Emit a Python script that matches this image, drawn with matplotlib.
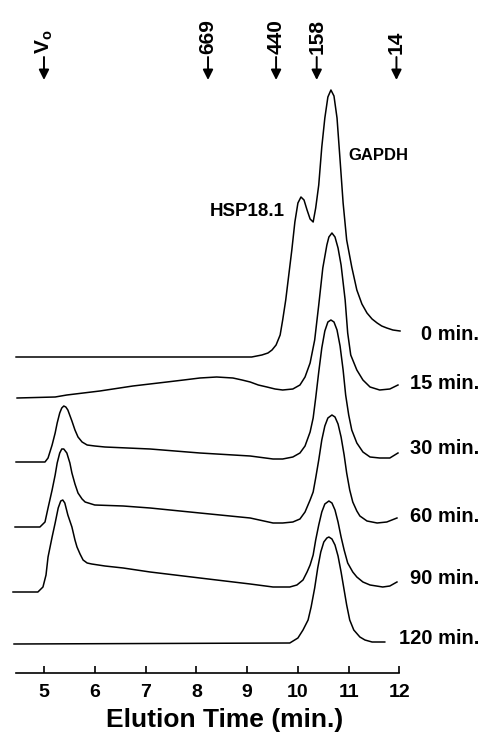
import matplotlib
matplotlib.use("Agg")
import matplotlib.pyplot as plt

plt.rcParams['font.family'] = ['Liberation Sans', 'DejaVu Sans']
plt.rcParams['font.weight'] = 'bold'
plt.rcParams['mathtext.fontset'] = 'custom'
plt.rcParams['mathtext.rm'] = 'Liberation Sans:bold'
plt.rcParams['mathtext.bf'] = 'Liberation Sans:bold'

# elution time (min) and signal above each trace's own baseline (arb. units)
t_0 = [4.45, 9.09, 9.29, 9.41, 9.49, 9.57, 9.65, 9.70, 9.76, 9.82, 9.88, 9.94, 10.00,
       10.06, 10.12, 10.18, 10.24, 10.30, 10.35, 10.41, 10.47, 10.53, 10.59, 10.65,
       10.71, 10.77, 10.83, 10.89, 10.96, 11.06, 11.16, 11.26, 11.36, 11.46, 11.56,
       11.65, 11.75, 11.87, 12.01]
s_0 = [0, 0, 2, 4, 7, 12, 22, 37, 57, 82, 107, 135, 154,
       160, 157, 147, 138, 135, 149, 172, 210, 239, 260, 267,
       261, 239, 197, 154, 117, 90, 67, 53, 44, 38, 34,
       31, 29, 27, 26]

t_15 = [4.47, 5.22, 5.45, 6.10, 6.75, 7.42, 7.75, 8.07, 8.40, 8.72, 8.90, 9.06, 9.22,
        9.39, 9.55, 9.70, 9.90, 10.04, 10.14, 10.24, 10.33, 10.41, 10.49, 10.57, 10.61,
        10.67, 10.73, 10.79, 10.85, 10.93, 10.98, 11.04, 11.16, 11.28, 11.42, 11.61,
        11.81, 11.97]
s_15 = [0, 1, 3, 7, 12, 16, 18, 20, 21, 20, 18, 16, 13,
        11, 9, 8, 9, 13, 21, 35, 58, 93, 130, 153, 161,
        165, 161, 150, 133, 98, 65, 43, 28, 18, 11, 8,
        9, 13]

t_30 = [4.45, 5.02, 5.08, 5.16, 5.22, 5.26, 5.31, 5.35, 5.39, 5.43, 5.47, 5.55, 5.61,
        5.67, 5.75, 5.85, 6.00, 6.20, 7.09, 8.07, 9.06, 9.51, 9.70, 9.90, 10.04, 10.14,
        10.24, 10.30, 10.35, 10.41, 10.47, 10.53, 10.59, 10.65, 10.71, 10.77, 10.83,
        10.89, 10.94, 11.00, 11.06, 11.16, 11.28, 11.42, 11.61, 11.81, 11.97]
s_30 = [0, 0, 4, 17, 29, 39, 49, 54, 56, 55, 52, 41, 32,
        25, 20, 17, 16, 15, 13, 9, 6, 3, 3, 5, 9, 16,
        30, 44, 64, 90, 114, 131, 140, 142, 140, 132, 116,
        92, 67, 47, 32, 19, 10, 5, 4, 4, 9]

t_60 = [4.43, 4.92, 5.02, 5.08, 5.16, 5.22, 5.26, 5.31, 5.35, 5.39, 5.45, 5.51, 5.55,
        5.61, 5.67, 5.75, 5.81, 6.00, 6.56, 7.09, 8.07, 9.06, 9.51, 9.70, 9.90, 10.04,
        10.14, 10.24, 10.30, 10.35, 10.41, 10.47, 10.53, 10.59, 10.67, 10.73, 10.79,
        10.85, 10.91, 10.96, 11.02, 11.08, 11.16, 11.22, 11.36, 11.56, 11.75, 11.95]
s_60 = [0, 0, 5, 19, 37, 52, 64, 74, 78, 78, 74, 64, 54,
        43, 34, 28, 25, 22, 21, 19, 14, 9, 4, 4, 5, 8,
        15, 27, 35, 49, 67, 87, 101, 109, 112, 110, 103,
        90, 72, 54, 37, 25, 16, 11, 6, 4, 5, 9]

t_90 = [4.39, 4.88, 4.98, 5.04, 5.08, 5.16, 5.22, 5.28, 5.33, 5.37, 5.41, 5.47, 5.55,
        5.61, 5.65, 5.71, 5.77, 5.85, 5.94, 6.20, 6.56, 7.09, 8.07, 9.06, 9.51, 9.84,
        9.98, 10.10, 10.18, 10.24, 10.30, 10.35, 10.41, 10.47, 10.53, 10.61, 10.67,
        10.73, 10.79, 10.85, 10.91, 10.98, 11.08, 11.16, 11.28, 11.42, 11.67, 11.81, 11.95]
s_90 = [0, 0, 5, 17, 35, 55, 69, 84, 91, 92, 89, 77, 65,
        52, 45, 38, 32, 29, 28, 26, 24, 20, 14, 8, 5, 5,
        7, 12, 20, 27, 37, 52, 67, 80, 88, 91, 89,
        82, 70, 55, 42, 29, 20, 15, 10, 7, 5, 6, 10]

t_120 = [4.41, 9.84, 10.00, 10.10, 10.20, 10.26, 10.33, 10.39, 10.45, 10.51, 10.57,
         10.61, 10.67, 10.73, 10.79, 10.85, 10.91, 10.96, 11.02, 11.10, 11.22, 11.32,
         11.46, 11.71]
s_120 = [0, 1, 6, 14, 24, 37, 56, 76, 92, 102, 106,
         107, 105, 99, 88, 72, 54, 39, 24, 14, 7, 4,
         2, 2]

traces = [(t_0, s_0), (t_15, s_15), (t_30, s_30), (t_60, s_60), (t_90, s_90), (t_120, s_120)]
offsets = [316, 275, 211, 146, 81, 29]
trace_labels = ["0 min.", "15 min.", "30 min.", "60 min.", "90 min.", "120 min."]
label_y = [335, 383, 449, 516, 579, 639]  # pixel rows of the labels

# size markers
marker_t = [5.0, 8.23, 9.57, 10.37, 11.94]
marker_text = [r"V$_\mathregular{o}$", "669", "440", "158", "14"]

W, H = 481, 740
fig = plt.figure(figsize=(W / 100, H / 100), dpi=100)
ax = fig.add_axes([13 / W, (H - 673) / H, (400 - 13) / W, 673 / H])
ax.set_xlim(4.39, 12.01)
ax.set_ylim(0, 673)

for (t, s), off in zip(traces, offsets):
    ax.plot(t, [v + off for v in s], color='black', lw=1.1, clip_on=False)

for x, lab in zip(marker_t, marker_text):
    ax.annotate('', xy=(x, 593), xytext=(x, 616),
                arrowprops=dict(arrowstyle='-|>,head_length=0.6,head_width=0.3',
                                color='black', lw=1.4, mutation_scale=10,
                                shrinkA=0, shrinkB=0),
                annotation_clip=False)
    ax.text(x, 619, lab, rotation=90, ha='center', va='bottom',
            fontsize=15, fontweight='bold')

for lab, yy in zip(trace_labels, label_y):
    fig.text(479 / W, 1 - yy / H, lab, ha='right', va='center',
             fontsize=14.5, fontweight='bold')

fig.text(285 / W, 1 - 212 / H, "HSP18.1", ha='right', va='center',
         fontsize=13.5, fontweight='bold')
fig.text(348 / W, 1 - 156 / H, "GAPDH", ha='left', va='center',
         fontsize=12, fontweight='bold')

for side in ['left', 'top', 'right']:
    ax.spines[side].set_visible(False)
ax.spines['bottom'].set_bounds(4.45, 12.0)
ax.spines['bottom'].set_linewidth(1.2)
ax.set_yticks([])
ax.set_xticks([5, 6, 7, 8, 9, 10, 11, 12])
ax.tick_params(axis='x', direction='in', length=5, width=1.2, pad=8,
               labelsize=14)
for lbl in ax.get_xticklabels():
    lbl.set_fontweight('bold')

fig.text(225 / W, 1 - 720 / H, "Elution Time (min.)", ha='center', va='center',
         fontsize=19, fontweight='bold')

fig.savefig("out.png", dpi=100)
